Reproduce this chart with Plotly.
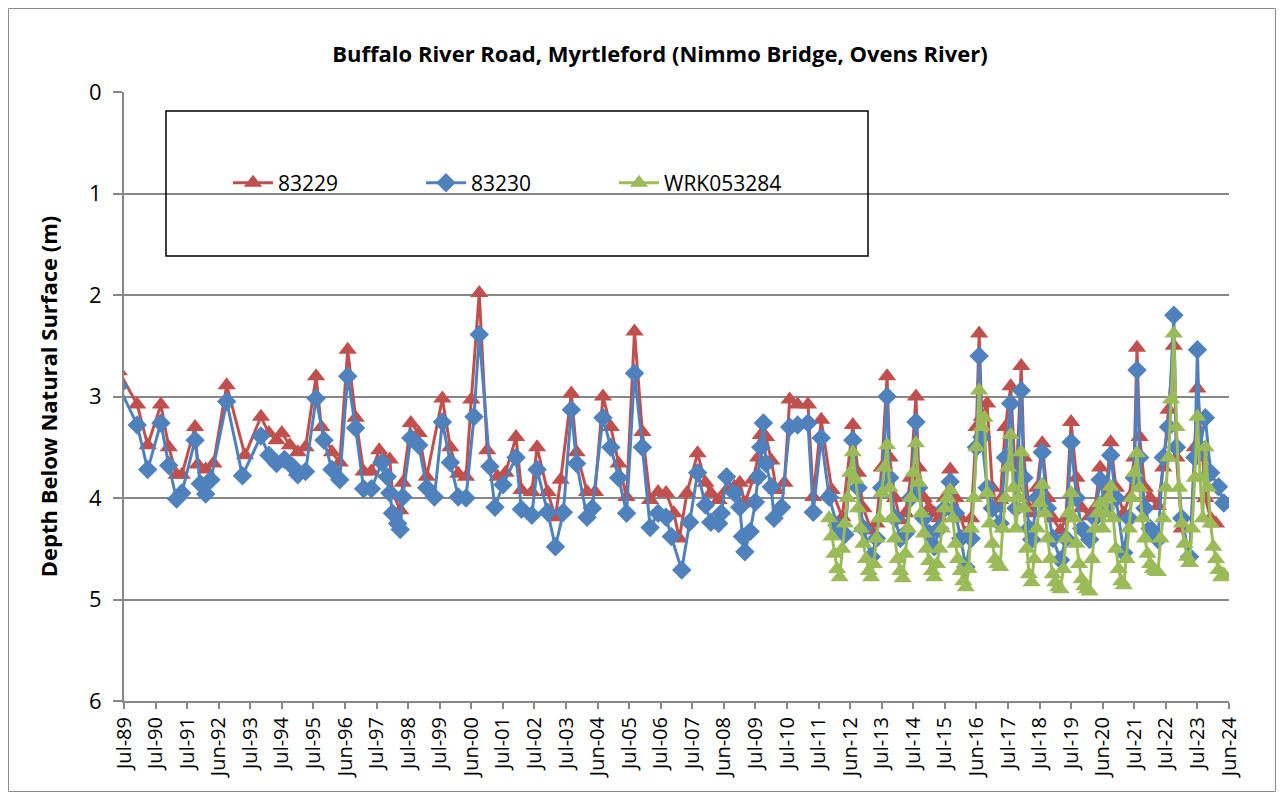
import pandas as pd
import plotly.graph_objects as go

# ---------------- data ----------------
dates_83229 = [
    "1989-05", "1989-12", "1990-04", "1990-09", "1990-12", "1991-03", "1991-05", "1991-10", "1991-11",
    "1992-02", "1992-05", "1992-10", "1993-05", "1993-11", "1994-02", "1994-05", "1994-07", "1994-10",
    "1995-01", "1995-04", "1995-08", "1995-10", "1996-02", "1996-05", "1996-08", "1996-11", "1997-02",
    "1997-05", "1997-08", "1997-12", "1998-01", "1998-04", "1998-05", "1998-08", "1998-11", "1999-02",
    "1999-08", "1999-11", "2000-02", "2000-05", "2000-07", "2000-10", "2001-01", "2001-05", "2001-08",
    "2001-12", "2002-02", "2002-06", "2002-08", "2002-12", "2003-03", "2003-05", "2003-09", "2003-11",
    "2004-03", "2004-06", "2004-09", "2004-12", "2005-03", "2005-06", "2005-09", "2005-12", "2006-03",
    "2006-06", "2006-09", "2006-12", "2007-02", "2007-05", "2007-09", "2007-12", "2008-02", "2008-05",
    "2008-08", "2008-11", "2009-01", "2009-03", "2009-06", "2009-08", "2009-09", "2009-11", "2010-01",
    "2010-03", "2010-06", "2010-08", "2010-11", "2011-03", "2011-05", "2011-08", "2011-12", "2012-04",
    "2012-08", "2012-10", "2012-12", "2013-03", "2013-05", "2013-07", "2013-09", "2013-10", "2013-12",
    "2014-02", "2014-04", "2014-06", "2014-08", "2014-09", "2014-11", "2015-01", "2015-03", "2015-05",
    "2015-07", "2015-09", "2015-11", "2016-01", "2016-03", "2016-05", "2016-07", "2016-08", "2016-09",
    "2016-11", "2017-01", "2017-03", "2017-04", "2017-06", "2017-08", "2017-10", "2017-12", "2018-01",
    "2018-03", "2018-04", "2018-06", "2018-08", "2018-10", "2018-12", "2019-03", "2019-05", "2019-07",
    "2019-09", "2019-11", "2020-02", "2020-04", "2020-06", "2020-08", "2020-10", "2020-12", "2021-03",
    "2021-05", "2021-07", "2021-08", "2021-09", "2021-11", "2022-01", "2022-04", "2022-06", "2022-08",
    "2022-10", "2022-11", "2023-01", "2023-04", "2023-06", "2023-07", "2023-09", "2023-10", "2023-12",
    "2024-02",
]
depth_83229 = [
    2.75, 3.08, 3.48, 3.08, 3.50, 3.77, 3.77, 3.30, 3.67,
    3.72, 3.66, 2.89, 3.58, 3.20, 3.36, 3.43, 3.36, 3.48,
    3.55, 3.50, 2.80, 3.30, 3.55, 3.65, 2.54, 3.21, 3.74,
    3.74, 3.53, 3.62, 3.95, 4.12, 3.85, 3.26, 3.36, 3.79,
    3.02, 3.50, 3.76, 3.79, 3.03, 1.98, 3.53, 3.79, 3.75,
    3.40, 3.92, 3.94, 3.50, 3.94, 4.19, 3.82, 2.97, 3.55,
    3.94, 3.94, 3.00, 3.30, 3.66, 3.99, 2.36, 3.35, 4.02,
    3.94, 3.95, 4.15, 4.40, 3.95, 3.56, 3.85, 3.95, 4.02,
    3.92, 3.89, 3.85, 4.05, 3.82, 3.60, 3.38, 3.40, 3.63,
    3.92, 3.85, 3.03, 3.08, 3.08, 3.99, 3.23, 3.92, 4.19,
    3.28, 3.75, 4.10, 4.32, 4.25, 3.70, 2.80, 3.60, 4.00,
    4.22, 4.15, 3.80, 3.00, 3.70, 4.00, 4.10, 4.15, 4.20,
    4.00, 3.72, 4.00, 4.20, 4.35, 4.20, 3.30, 2.38, 3.20,
    3.07, 3.90, 4.10, 4.02, 3.30, 2.90, 3.90, 2.70, 3.60,
    4.10, 4.15, 3.90, 3.46, 4.00, 4.20, 4.32, 4.20, 3.25,
    3.80, 4.10, 4.18, 4.10, 3.70, 4.00, 3.45, 3.90, 4.15,
    4.00, 3.60, 2.52, 3.40, 3.90, 4.00, 4.08, 3.70, 3.13,
    2.50, 3.60, 4.30, 4.64, 3.50, 2.92, 3.60, 4.00, 4.20,
    4.25,
]

dates_83230 = [
    "1989-05", "1989-12", "1990-04", "1990-09", "1990-12", "1991-03", "1991-05", "1991-10", "1991-12",
    "1992-02", "1992-04", "1992-10", "1993-04", "1993-11", "1994-02", "1994-05", "1994-08", "1994-11",
    "1995-01", "1995-04", "1995-08", "1995-11", "1996-02", "1996-05", "1996-08", "1996-11", "1997-02",
    "1997-05", "1997-09", "1997-11", "1997-12", "1998-01", "1998-03", "1998-04", "1998-05", "1998-08",
    "1998-11", "1999-02", "1999-05", "1999-08", "1999-11", "2000-02", "2000-05", "2000-08", "2000-10",
    "2001-02", "2001-04", "2001-07", "2001-12", "2002-02", "2002-06", "2002-08", "2002-12", "2003-03",
    "2003-06", "2003-09", "2003-11", "2004-03", "2004-05", "2004-09", "2004-12", "2005-03", "2005-06",
    "2005-09", "2005-12", "2006-03", "2006-06", "2006-09", "2006-11", "2007-03", "2007-06", "2007-09",
    "2007-12", "2008-02", "2008-05", "2008-06", "2008-08", "2008-11", "2009-01", "2009-02", "2009-03",
    "2009-05", "2009-07", "2009-08", "2009-09", "2009-10", "2009-11", "2010-01", "2010-02", "2010-05",
    "2010-08", "2010-11", "2011-03", "2011-05", "2011-08", "2011-11", "2012-02", "2012-05", "2012-08",
    "2012-10", "2012-12", "2013-03", "2013-05", "2013-07", "2013-09", "2013-10", "2013-12", "2014-02",
    "2014-04", "2014-06", "2014-08", "2014-09", "2014-11", "2015-01", "2015-03", "2015-05", "2015-07",
    "2015-09", "2015-11", "2016-01", "2016-03", "2016-05", "2016-07", "2016-08", "2016-09", "2016-11",
    "2017-01", "2017-04", "2017-06", "2017-08", "2017-10", "2017-12", "2018-01", "2018-03", "2018-04",
    "2018-06", "2018-08", "2018-10", "2018-12", "2019-03", "2019-05", "2019-07", "2019-09", "2019-11",
    "2020-02", "2020-04", "2020-06", "2020-08", "2020-10", "2020-12", "2021-03", "2021-05", "2021-07",
    "2021-08", "2021-09", "2021-11", "2022-01", "2022-04", "2022-06", "2022-08", "2022-10", "2022-11",
    "2023-01", "2023-04", "2023-06", "2023-07", "2023-08", "2023-10", "2023-12", "2024-03", "2024-05",
]
depth_83230 = [
    2.90, 3.28, 3.72, 3.26, 3.68, 4.01, 3.95, 3.43, 3.86,
    3.96, 3.82, 3.05, 3.78, 3.39, 3.58, 3.66, 3.62, 3.69,
    3.77, 3.74, 3.02, 3.43, 3.72, 3.82, 2.80, 3.31, 3.91,
    3.91, 3.65, 3.79, 3.95, 4.15, 4.25, 4.31, 3.99, 3.41,
    3.48, 3.90, 3.99, 3.25, 3.65, 3.99, 4.00, 3.20, 2.39,
    3.69, 4.09, 3.87, 3.60, 4.11, 4.17, 3.72, 4.14, 4.48,
    4.14, 3.13, 3.66, 4.19, 4.10, 3.21, 3.50, 3.80, 4.15,
    2.77, 3.50, 4.29, 4.15, 4.19, 4.38, 4.71, 4.24, 3.75,
    4.07, 4.24, 4.25, 4.15, 3.79, 3.95, 4.09, 4.38, 4.53,
    4.33, 4.04, 3.79, 3.50, 3.26, 3.66, 3.89, 4.20, 4.09,
    3.30, 3.28, 3.26, 4.14, 3.41, 3.99, 4.27, 4.36, 3.43,
    3.90, 4.30, 4.58, 4.40, 3.90, 3.00, 3.80, 4.20, 4.40,
    4.35, 4.00, 3.25, 3.90, 4.20, 4.35, 4.48, 4.30, 4.10,
    3.84, 4.15, 4.40, 4.68, 4.40, 3.50, 2.60, 3.40, 3.90,
    4.10, 4.25, 3.60, 3.07, 4.10, 2.94, 3.80, 4.30, 4.41,
    4.00, 3.55, 4.10, 4.40, 4.61, 4.40, 3.45, 4.00, 4.30,
    4.41, 4.20, 3.82, 4.10, 3.58, 4.00, 4.54, 4.20, 3.80,
    2.74, 3.60, 4.10, 4.30, 4.41, 3.60, 3.30, 2.20, 3.50,
    4.20, 4.58, 3.60, 2.54, 3.50, 3.21, 3.75, 3.89, 4.05,
]

dates_wrk = [
    "2011-11", "2011-12", "2012-01", "2012-02", "2012-03", "2012-04", "2012-05", "2012-06", "2012-07",
    "2012-08", "2012-09", "2012-10", "2012-11", "2012-12", "2013-01", "2013-02", "2013-03", "2013-04",
    "2013-05", "2013-06", "2013-07", "2013-08", "2013-09", "2013-10", "2013-11", "2013-12", "2014-01",
    "2014-02", "2014-03", "2014-04", "2014-05", "2014-06", "2014-07", "2014-08", "2014-09", "2014-10",
    "2014-11", "2014-12", "2015-01", "2015-02", "2015-03", "2015-04", "2015-05", "2015-06", "2015-07",
    "2015-08", "2015-09", "2015-10", "2015-11", "2015-12", "2016-01", "2016-02", "2016-03", "2016-04",
    "2016-05", "2016-06", "2016-07", "2016-08", "2016-09", "2016-10", "2016-11", "2016-12", "2017-01",
    "2017-02", "2017-03", "2017-04", "2017-05", "2017-06", "2017-07", "2017-08", "2017-09", "2017-10",
    "2017-11", "2017-12", "2018-01", "2018-02", "2018-03", "2018-04", "2018-05", "2018-06", "2018-07",
    "2018-08", "2018-09", "2018-10", "2018-11", "2018-12", "2019-01", "2019-02", "2019-03", "2019-04",
    "2019-05", "2019-06", "2019-07", "2019-08", "2019-09", "2019-10", "2019-11", "2019-12", "2020-01",
    "2020-02", "2020-03", "2020-04", "2020-05", "2020-06", "2020-07", "2020-08", "2020-09", "2020-10",
    "2020-11", "2020-12", "2021-01", "2021-02", "2021-03", "2021-04", "2021-05", "2021-06", "2021-07",
    "2021-08", "2021-09", "2021-10", "2021-11", "2021-12", "2022-01", "2022-02", "2022-03", "2022-04",
    "2022-05", "2022-06", "2022-07", "2022-08", "2022-09", "2022-10", "2022-11", "2022-12", "2023-01",
    "2023-02", "2023-03", "2023-04", "2023-05", "2023-06", "2023-07", "2023-08", "2023-09", "2023-10",
    "2023-11", "2023-12", "2024-01", "2024-02", "2024-03", "2024-04", "2024-05",
]
depth_wrk = [
    4.20, 4.38, 4.55, 4.70, 4.78, 4.50, 4.25, 4.00, 3.75,
    3.55, 3.82, 4.10, 4.30, 4.45, 4.60, 4.72, 4.78, 4.65,
    4.40, 4.20, 3.95, 3.70, 3.48, 3.90, 4.20, 4.40, 4.60,
    4.72, 4.79, 4.55, 4.30, 4.00, 3.75, 3.46, 3.85, 4.15,
    4.35, 4.50, 4.62, 4.72, 4.78, 4.65, 4.50, 4.30, 4.10,
    4.00, 3.92, 4.20, 4.45, 4.60, 4.72, 4.82, 4.88, 4.70,
    4.30, 4.00, 3.50, 2.94, 3.30, 3.21, 3.95, 4.25, 4.45,
    4.60, 4.65, 4.68, 4.30, 4.00, 3.70, 3.38, 3.90, 4.30,
    4.00, 3.55, 4.10, 4.50, 4.75, 4.83, 4.60, 4.30, 4.05,
    3.87, 4.15, 4.40, 4.60, 4.75, 4.83, 4.88, 4.90, 4.70,
    4.40, 4.15, 3.95, 4.20, 4.45, 4.65, 4.80, 4.87, 4.90,
    4.92, 4.60, 4.30, 4.15, 4.05, 4.30, 4.15, 4.00, 3.89,
    4.20, 4.50, 4.70, 4.82, 4.86, 4.60, 4.30, 4.00, 3.75,
    3.56, 3.90, 4.20, 4.40, 4.55, 4.65, 4.70, 4.72, 4.73,
    4.40, 4.20, 3.90, 3.60, 3.03, 2.38, 3.30, 3.90, 4.25,
    4.45, 4.58, 4.64, 4.30, 3.80, 3.20, 3.80, 4.20, 3.50,
    3.90, 4.25, 4.48, 4.60, 4.71, 4.78, 4.75,
]

x_tick_labels = [
    "Jul-89", "Jul-90", "Jul-91", "Jun-92", "Jul-93", "Jul-94", "Jul-95", "Jun-96", "Jul-97",
    "Jul-98", "Jul-99", "Jun-00", "Jul-01", "Jul-02", "Jul-03", "Jun-04", "Jul-05", "Jul-06",
    "Jul-07", "Jun-08", "Jul-09", "Jul-10", "Jul-11", "Jun-12", "Jul-13", "Jul-14", "Jul-15",
    "Jun-16", "Jul-17", "Jul-18", "Jul-19", "Jun-20", "Jul-21", "Jul-22", "Jul-23", "Jun-24",
]
y_tick_values = [0, 1, 2, 3, 4, 5, 6]

# ---------------- styling ----------------
FONT = "Open Sans"
RED = "#C0504D"
BLUE = "#4F81BD"
GREEN = "#9BBB59"
GRID = "#878787"

axis_start = pd.Timestamp("1989-07-01")
tick_dates = [axis_start + pd.Timedelta(days=365.25 * i) for i in range(len(x_tick_labels))]
axis_end = tick_dates[-1]

W, H = 1268, 784
ML, MR, MT, MB = 116, 47, 84, 91
PW, PH = W - ML - MR, H - MT - MB

fig = go.Figure()
series = [
    ("83229", dates_83229, depth_83229, RED, "triangle-up", 16),
    ("83230", dates_83230, depth_83230, BLUE, "diamond", 15),
    ("WRK053284", dates_wrk, depth_wrk, GREEN, "triangle-up", 16),
]
for name, d, v, col, sym, sz in series:
    fig.add_trace(go.Scatter(
        x=pd.to_datetime(d), y=v, name=name, mode="lines+markers",
        line=dict(color=col, width=3),
        marker=dict(symbol=sym, size=sz, color=col, line=dict(width=0)),
    ))

fig.update_layout(
    width=W, height=H,
    margin=dict(l=ML, r=MR, t=MT, b=MB),
    paper_bgcolor="white", plot_bgcolor="white",
    font=dict(family=FONT, color="black"),
    title=dict(
        text="<b>Buffalo River Road, Myrtleford (Nimmo Bridge, Ovens River)</b>",
        font=dict(family=FONT, size=22, color="black"),
        xref="paper", x=(660 - 124) / PW, xanchor="center",
        yref="container", y=1 - 46 / H, yanchor="middle",
    ),
    xaxis=dict(
        type="date", range=[axis_start, axis_end],
        tickmode="array", tickvals=tick_dates, ticktext=x_tick_labels,
        tickangle=-90, tickfont=dict(family=FONT, size=20, color="black"),
        showgrid=False, zeroline=False,
        showline=True, linecolor=GRID, linewidth=2,
        ticks="outside", ticklen=6, tickcolor=GRID, tickwidth=2,
    ),
    xaxis2=dict(
        type="date", range=[axis_start, axis_end], overlaying="x", anchor="y",
        side="bottom",
        tickmode="array", tickvals=tick_dates, showticklabels=False,
        showgrid=False, zeroline=False, showline=False,
        ticks="inside", ticklen=6, tickcolor=GRID, tickwidth=2,
    ),
    yaxis=dict(
        range=[6, 0], tickmode="array", tickvals=y_tick_values,
        tickfont=dict(family=FONT, size=22, color="black"),
        showgrid=True, gridcolor=GRID, gridwidth=2, zeroline=False,
        showline=True, linecolor=GRID, linewidth=2,
        ticks="outside", ticklen=9, tickcolor=GRID, tickwidth=2,
        ticklabelstandoff=7,
        title=dict(text="<b>Depth Below Natural Surface (m)</b>",
                   font=dict(family=FONT, size=22, color="black"), standoff=25),
    ),
    legend=dict(
        orientation="h", x=(228 - 124) / PW, xanchor="left",
        y=1 - (183 - 92) / PH, yanchor="middle",
        font=dict(family=FONT, size=21, color="black"),
        bgcolor="rgba(0,0,0,0)", borderwidth=0,
        entrywidth=138, entrywidthmode="pixels", itemwidth=40,
        traceorder="normal",
    ),
    showlegend=True,
)

# legend frame
fig.add_shape(type="rect", xref="paper", yref="paper",
              x0=(166 - 124) / PW, x1=(868 - 124) / PW,
              y0=1 - (256 - 92) / PH, y1=1 - (111 - 92) / PH,
              line=dict(color="black", width=1.5), fillcolor="rgba(0,0,0,0)", layer="above")
# outer chart frame
fig.add_shape(type="rect", xref="paper", yref="paper",
              x0=(-ML + 0.5) / PW, x1=1 + (MR - 0.5) / PW,
              y0=(-MB + 0.5) / PH, y1=1 + (MT - 0.5) / PH,
              line=dict(color="#8A8A8A", width=1), fillcolor="rgba(0,0,0,0)", layer="below")

fig.write_html("out.html")
